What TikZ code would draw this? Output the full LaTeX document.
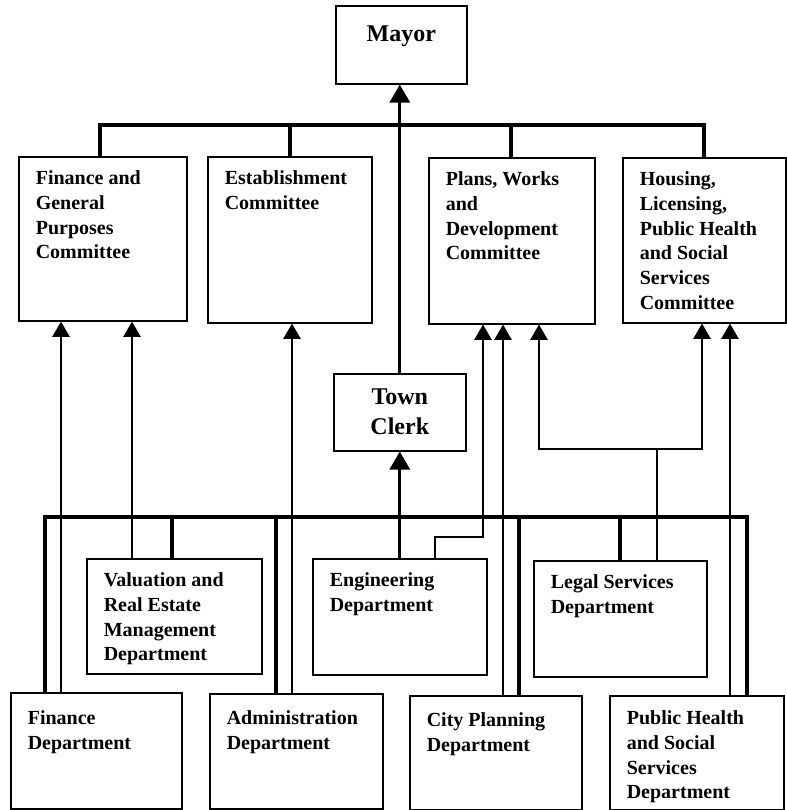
\documentclass[tikz,border=0pt]{standalone}
\usepackage{fontspec}
\setmainfont{Liberation Serif}
\usetikzlibrary{arrows.meta}
\newlength\px
\setlength\px{0.75pt}
\newcommand\boxtext[4]{\parbox[t][#2\px][t]{\dimexpr#1\px-34\px\relax}{\raggedright\vspace*{#3\px}#4}}
\tikzset{
	unit/.style={draw, line width=1.2pt, anchor=north west, inner xsep=12.75pt, inner ysep=0pt, font=\bfseries\fontsize{15}{18.5}\selectfont},
	head/.style={unit, font=\bfseries\fontsize{18}{22.5}\selectfont},
	bus/.style={line width=2.4pt},
	wire/.style={line width=1.4pt},
	link/.style={wire, -{Triangle[width=13pt,length=11.5pt]}},
	bigarrow/.style={bus, -{Triangle[width=15pt,length=13.5pt]}}
}

\begin{document}
\begin{tikzpicture}[x=0.75pt, y=-0.75pt]
	%%%%% START %%%%%
	\useasboundingbox (0,0) rectangle (787,810);
	
	\node[head] (mayor) at (335,5) {\boxtext{131}{78}{20}{\centering Mayor}};
	\node[head] (clerk) at (333,373) {\boxtext{132}{77}{15}{\centering Town\\Clerk}};
	
	% committees
	\node[unit] (fgp) at (18,156) {\boxtext{168}{164}{14}{Finance and\\General\\Purposes\\Committee}};
	\node[unit] (est) at (207,156) {\boxtext{164}{166}{14}{Establishment\\Committee}};
	\node[unit] (pwd) at (428,157) {\boxtext{166}{166}{14}{Plans, Works\\and\\Development\\Committee}};
	\node[unit] (hsg) at (622,157) {\boxtext{163}{165}{14}{Housing,\\Licensing,\\Public Health\\and Social\\Services\\Committee}};
	
	% departments
	\node[unit] (val) at (86,558) {\boxtext{175}{115}{14}{Valuation and\\Real Estate\\Management\\Department}};
	\node[unit] (eng) at (312,558) {\boxtext{174}{116}{14}{Engineering\\Department}};
	\node[unit] (leg) at (533,560) {\boxtext{173}{116}{14}{Legal Services\\Department}};
	\node[unit] (fin) at (10,692) {\boxtext{171}{116}{18}{Finance\\Department}};
	\node[unit] (adm) at (209,693) {\boxtext{173}{115}{17}{Administration\\Department}};
	\node[unit] (cpl) at (409,695) {\boxtext{172}{114}{17}{City Planning\\Department}};
	\node[unit] (phs) at (609,695) {\boxtext{174}{114}{15}{Public Health\\and Social\\Services\\Department}};
	
	% top bus
	\draw[bus] (fgp.north -| 100,0) -- (100,125) -- (704,125) -- (hsg.north -| 704,0);
	\draw[bus] (290,125) -- (est.north -| 290,0);
	\draw[bus] (511,125) -- (pwd.north -| 511,0);
	
	\draw[bigarrow] (clerk.north) -- (clerk.north |- mayor.south);
	\draw[bigarrow] (eng.north -| clerk.south) -- (clerk.south);
	
	% bottom bus
	\draw[bus] (fin.north -| 45,0) -- (45,517) -- (747,517) -- (phs.north -| 747,0);
	\draw[bus] (172,517) -- (val.north -| 172,0);
	\draw[bus] (276,517) -- (adm.north -| 276,0);
	\draw[bus] (519,517) -- (cpl.north -| 519,0);
	\draw[bus] (620,517) -- (leg.north -| 620,0);
	
	% reporting lines
	\draw[link] (fin.north -| 61,0) -- (fgp.south -| 61,0);
	\draw[link] (val.north -| 132,0) -- (fgp.south -| 132,0);
	\draw[link] (adm.north -| 292,0) -- (est.south -| 292,0);
	\draw[link] (eng.north -| 435,0) |- (483,537) -- (pwd.south -| 483,0);
	\draw[link] (cpl.north -| 503,0) -- (pwd.south -| 503,0);
	\coordinate (legsplit) at (657,449);
	\draw[wire] (leg.north -| legsplit) -- (legsplit);
	\draw[link] (legsplit) -| (pwd.south -| 539,0);
	\draw[link] (legsplit) -| (hsg.south -| 702,0);
	\draw[link] (phs.north -| 730,0) -- (hsg.south -| 730,0);
	
	%%%%% END %%%%%
\end{tikzpicture}
\end{document}
